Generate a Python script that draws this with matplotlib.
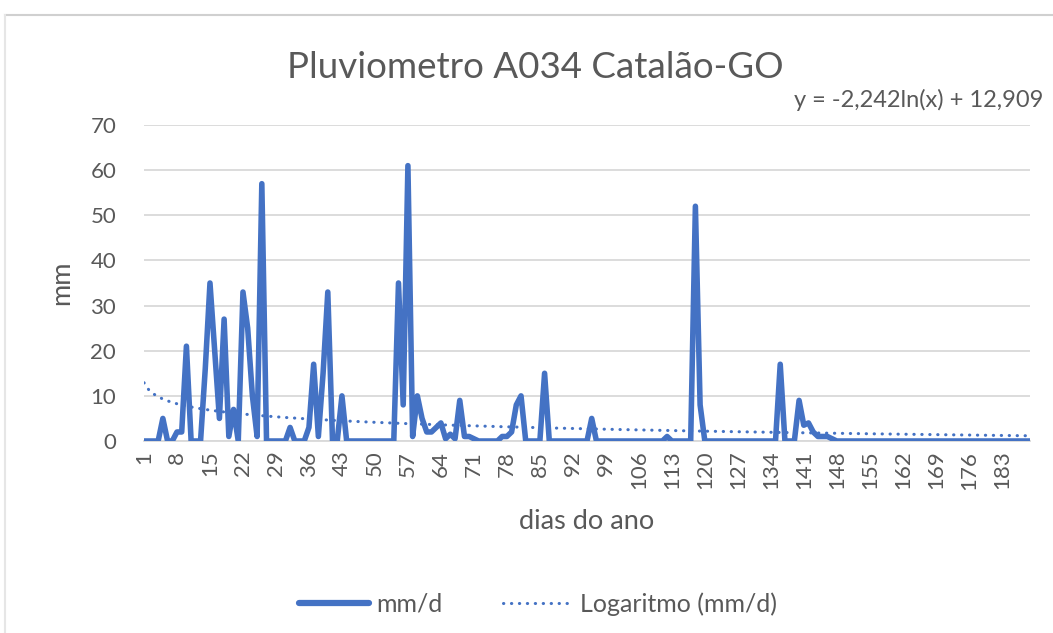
import numpy as np
import matplotlib
matplotlib.use("Agg")
import matplotlib.pyplot as plt
from matplotlib.lines import Line2D

plt.rcParams['font.family'] = ['Lato', 'DejaVu Sans']

# dias do ano (categorias do eixo x)
dias = list(range(1, 190))

# chuva diaria (mm/d)
mm_d = [
    0, 0, 0, 0, 5, 0, 0, 2, 2, 21,
    0, 0, 0, 16, 35, 20, 5, 27, 1, 7,
    0, 33, 25, 10, 1, 57, 0, 0, 0, 0,
    0, 3, 0, 0, 0, 3, 17, 1, 15, 33,
    0, 0, 10, 0, 0, 0, 0, 0, 0, 0,
    0, 0, 0, 0, 35, 8, 61, 1, 10, 5,
    2, 2, 3, 4, 0.5, 1.5, 0.5, 9, 1, 1,
    0.5, 0, 0, 0, 0, 0, 1, 1, 2, 8,
    10, 0, 0, 0, 0, 15, 0, 0, 0, 0,
    0, 0, 0, 0, 0, 5, 0, 0, 0, 0,
    0, 0, 0, 0, 0, 0, 0, 0, 0, 0,
    0, 1, 0, 0, 0, 0, 0, 52, 8, 0,
    0, 0, 0, 0, 0, 0, 0, 0, 0, 0,
    0, 0, 0, 0, 0, 17, 0, 0, 0, 9,
    3.5, 4, 2, 1, 1, 1, 0.5, 0, 0, 0,
    0, 0, 0, 0, 0, 0, 0, 0, 0, 0,
    0, 0, 0, 0, 0, 0, 0, 0, 0, 0,
    0, 0, 0, 0, 0, 0, 0, 0, 0, 0,
    0, 0, 0, 0, 0, 0, 0, 0, 0,
]

# linha de tendencia logaritmica mostrada no grafico
coef_a = -2.242
coef_b = 12.909
equacao = 'y = -2,242ln(x) + 12,909'

tick_dias = dias[::7]

azul = '#4472C4'
cinza = '#595959'
grade = '#D9D9D9'

W, H = 1053, 633
fig = plt.figure(figsize=(W / 100, H / 100), dpi=100)

# borda da area do grafico (estilo Excel)
fig.add_artist(Line2D([5 / W, 1], [1 - 15 / H, 1 - 15 / H], color='#D0D0D0', lw=1.5))
fig.add_artist(Line2D([5 / W, 5 / W], [0, 1 - 15 / H], color='#E6E6E6', lw=1.5))

ax = fig.add_axes([144 / W, 1 - 441 / H, (1030 - 144) / W, (441 - 125) / H])

tendencia = coef_a * np.log(dias) + coef_b

ax.plot(dias, mm_d, color=azul, lw=4.0, solid_joinstyle='round',
        solid_capstyle='round', zorder=3)
ax.plot(dias, tendencia, color=azul, lw=2.2, linestyle=(0, (0.1, 2.5)),
        dash_capstyle='round', zorder=2)

ax.set_xlim(1, 189)
ax.set_ylim(0, 70)
ax.set_yticks(range(0, 80, 10))
ax.set_xticks(tick_dias)
ax.set_xticklabels([str(d) for d in tick_dias], rotation=90)
ax.grid(axis='y', color=grade, lw=1.3)
ax.set_axisbelow(True)
for s in ['top', 'right', 'left']:
    ax.spines[s].set_visible(False)
ax.spines['bottom'].set_color(grade)
ax.spines['bottom'].set_linewidth(1.3)
ax.tick_params(length=0, labelsize=16, labelcolor=cinza)
ax.tick_params(axis='x', pad=7)
ax.tick_params(axis='y', pad=20)

ax.set_xlabel('dias do ano', fontsize=19.5, color=cinza, labelpad=14)
ax.set_ylabel('mm', fontsize=19.5, color=cinza, labelpad=12)

fig.text(535 / W, 1 - 67 / H, 'Pluviometro A034 Catalão-GO', ha='center',
         va='center', fontsize=26.5, color=cinza)
fig.text(1043 / W, 1 - 100 / H, equacao, ha='right', va='center',
         fontsize=17, color=cinza)

handles = [Line2D([], [], color=azul, lw=4.5, solid_capstyle='round'),
           Line2D([], [], color=azul, lw=2.2, linestyle=(0, (0.1, 2.5)),
                  dash_capstyle='round')]
fig.legend(handles, ['mm/d', 'Logaritmo (mm/d)'], loc='center',
           bbox_to_anchor=(538 / W, 1 - 604 / H), ncol=2, frameon=False,
           fontsize=18, labelcolor=cinza, handlelength=2.8, handletextpad=0.3,
           columnspacing=2.4)

fig.savefig('out.png', dpi=100)
